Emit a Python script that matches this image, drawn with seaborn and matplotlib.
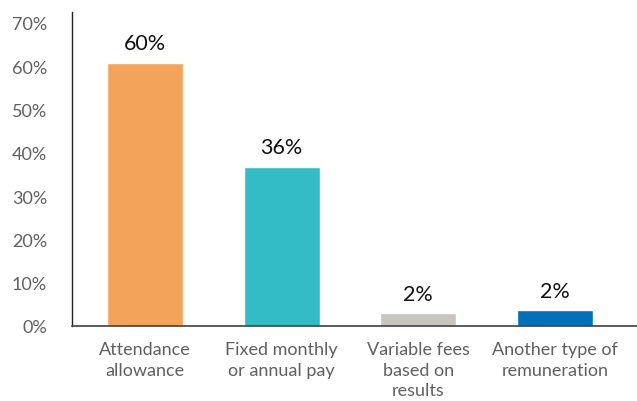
import pandas as pd
import seaborn as sns
import matplotlib.pyplot as plt

# ============ Data ============
categories = ["Attendance\nallowance", "Fixed monthly\nor annual pay",
              "Variable fees\nbased on\nresults", "Another type of\nremuneration"]
values = [60.7, 36.8, 2.9, 3.6]
value_labels = ["60%", "36%", "2%", "2%"]
colors = ["#F4A35A", "#33BCC6", "#C9C5BE", "#0070BA"]
yticks = [0, 10, 20, 30, 40, 50, 60, 70]

df = pd.DataFrame({"category": categories, "value": values})

# ============ font style ============
sns.set_style("white")
plt.rcParams['font.family'] = ['Lato', 'DejaVu Sans']

# ============ Plot ============
fig = plt.figure(figsize=(6.37, 4.02), dpi=100)
ax = fig.add_axes([72 / 637, 75 / 402, 565 / 637, 314 / 402])
sns.barplot(data=df, x="category", y="value", hue="category", palette=colors,
            legend=False, width=0.556, saturation=1, ax=ax)

for i, (v, lab) in enumerate(zip(values, value_labels)):
    ax.annotate(lab, (i, v), xytext=(0, 7), textcoords="offset points",
                ha="center", va="bottom", fontsize=15.5, color="#111111")

ax.set_xlim(-0.534, 3.6)
ax.set_ylim(0, 72.5)
ax.set_yticks(yticks)
ax.set_yticklabels([f"{t}%" for t in yticks])
for lab in ax.get_xticklabels():
    lab.set_linespacing(1.33)
ax.set_xlabel("")
ax.set_ylabel("")
ax.tick_params(axis="both", length=0, colors="#606060", labelsize=13)
ax.tick_params(axis="y", pad=18)
ax.tick_params(axis="x", pad=11, labelsize=13)

sns.despine(ax=ax, top=True, right=True)
ax.spines["left"].set_color("#222222")
ax.spines["bottom"].set_color("#404040")
ax.spines["left"].set_linewidth(1)
ax.spines["bottom"].set_linewidth(1.2)

fig.savefig("out.png", dpi=100)
